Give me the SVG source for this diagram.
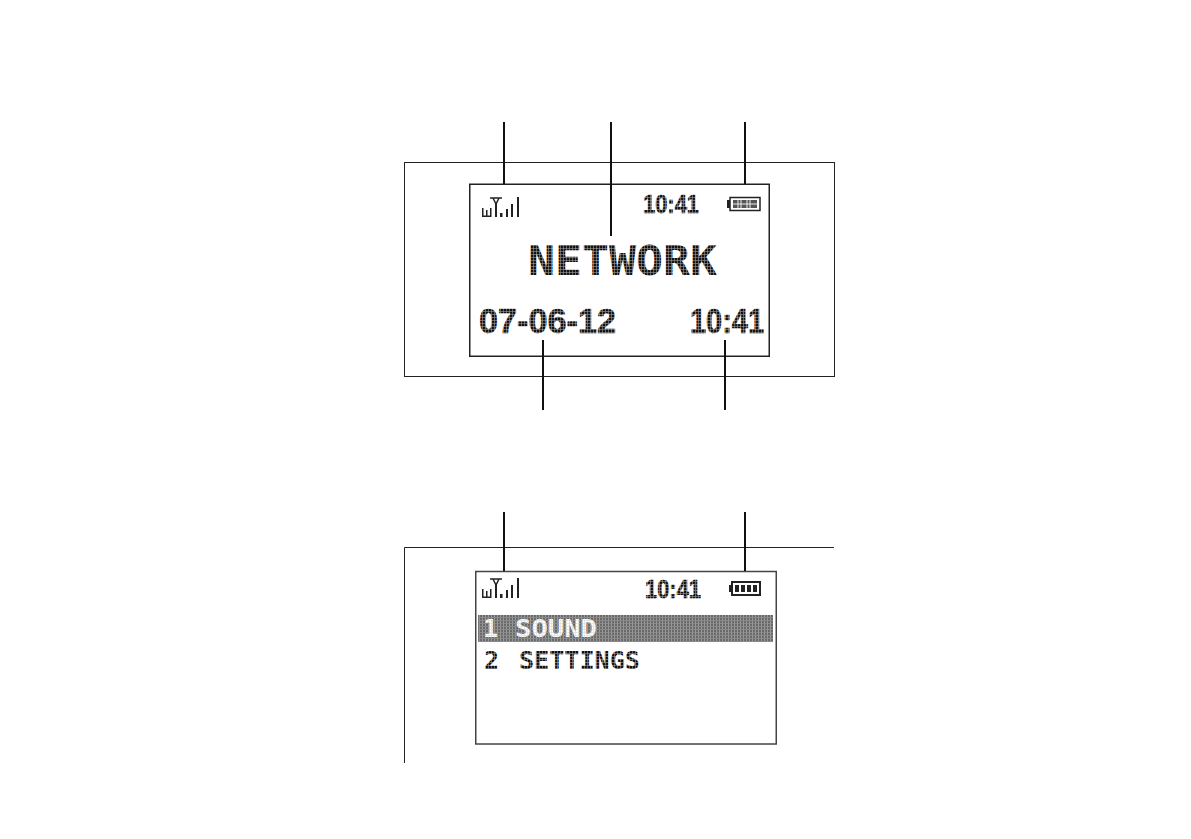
<svg xmlns="http://www.w3.org/2000/svg" width="1191" height="839" viewBox="0 0 1191 839">
<style>
.frame{fill:none;stroke:#222;stroke-width:1}
.lcd{fill:#fff;stroke:#222;stroke-width:1.5}
.lead{fill:none;stroke:#111;stroke-width:2}
.t{font-family:"DejaVu Sans Mono","Liberation Mono",monospace;font-weight:700;fill:url(#dots)}
.d{font-family:"Liberation Sans",Arial,sans-serif;font-weight:700;fill:url(#dots);stroke:url(#dots);stroke-width:0.6}
.i{fill:#222}
.o{fill:none;stroke:#222;stroke-width:1.5}
.soft{opacity:0.99}
</style>
<defs>
<pattern id="dots" width="3" height="3" patternUnits="userSpaceOnUse">
<rect width="3" height="3" fill="#111"/><rect x="2.4" width="0.6" height="3" fill="#999"/><rect y="2.4" width="3" height="0.6" fill="#999"/>
</pattern>
<pattern id="light" width="3" height="3" patternUnits="userSpaceOnUse">
<rect width="3" height="3" fill="#fff"/><rect x="2.4" width="0.6" height="3" fill="#ddd"/><rect y="2.4" width="3" height="0.6" fill="#ddd"/>
</pattern>
<pattern id="bar" width="3" height="3" patternUnits="userSpaceOnUse">
<rect width="3" height="3" fill="#6a6a6a"/><rect x="2" width="1" height="3" fill="#9a9a9a"/><rect y="2" width="3" height="1" fill="#8a8a8a"/>
</pattern>
<g id="signal">
<rect class="i" x="0" y="11" width="1.500" height="9"/><rect class="i" x="4" y="13" width="1.500" height="7"/><rect class="i" x="8" y="11" width="1.500" height="9"/><rect class="i" x="1" y="18.500" width="8" height="1.500"/>
<path class="o" d="M8 1H20M11 1L14 7L17 1"/><rect class="i" x="13" y="6" width="2" height="14"/>
<rect class="i" x="18" y="16" width="2.500" height="4"/><rect class="i" x="24" y="12" width="2" height="8"/><rect class="i" x="29" y="7" width="2" height="13"/><rect class="i" x="35" y="0" width="2" height="20"/>
</g>
</defs>
<g id="screen-top">
<rect class="frame" x="404.500" y="162.500" width="430" height="214"/>
<rect class="lcd" x="469.750" y="184.250" width="299.500" height="172"/>
<use href="#signal" x="482" y="197"/>
<g class="soft">
<text class="d" x="643" y="213" font-size="26" textLength="56" lengthAdjust="spacingAndGlyphs">10:41</text>
<text class="t" x="528" y="275" font-size="41" textLength="189" lengthAdjust="spacingAndGlyphs">NETWORK</text>
<text class="d" x="479" y="333" font-size="35" textLength="137" lengthAdjust="spacingAndGlyphs">07-06-12</text>
<text class="d" x="690" y="333" font-size="35" textLength="74" lengthAdjust="spacingAndGlyphs">10:41</text>
</g>
<g id="battery-top">
<rect class="i" x="727" y="200" width="3" height="8"/>
<rect x="730" y="197.500" width="30" height="13" fill="#fff" stroke="#222" stroke-width="1.500"/>
<rect x="733" y="200" width="24" height="8" fill="#555"/>
<path d="M738 200V208M741 200V208M747 200V208M750 200V208M733 204H757" stroke="#eee" stroke-width="1" fill="none"/>
</g>
</g>
<g id="screen-bottom">
<path class="frame" d="M834 547.500H404.500V763" stroke="#555"/>
<rect x="475.750" y="571.500" width="300.500" height="172.500" fill="#fff" stroke="#444" stroke-width="1.500"/>
<use href="#signal" x="482" y="578"/>
<text class="d soft" x="645" y="598" font-size="26" textLength="56" lengthAdjust="spacingAndGlyphs">10:41</text>
<g id="battery-bottom">
<rect class="i" x="729" y="585" width="3" height="7"/>
<rect x="732" y="582" width="28" height="13" fill="#fff" stroke="#222" stroke-width="2"/>
<rect x="735" y="585" width="4" height="7" class="i"/><rect x="741" y="585" width="4" height="7" class="i"/><rect x="747" y="585" width="4" height="7" class="i"/><rect x="753" y="585" width="4" height="7" class="i"/>
</g>
<rect id="highlight" x="478" y="615" width="295" height="27" fill="url(#bar)"/>
<g class="soft" font-family="DejaVu Sans Mono, Liberation Mono, monospace" font-weight="700" font-size="25">
<text x="483" y="637" fill="url(#light)">1</text>
<text x="515" y="637" fill="url(#light)" textLength="82" lengthAdjust="spacingAndGlyphs">SOUND</text>
<text class="t" x="484" y="669">2</text>
<text class="t" x="519" y="669" textLength="121" lengthAdjust="spacingAndGlyphs">SETTINGS</text>
</g>
</g>
<g id="connectors">
<path class="lead" d="M504 122V184M611 122V236M745 122V184M543 340V410M725 340V410M504 512V571M745 512V571"/>
</g>
</svg>
